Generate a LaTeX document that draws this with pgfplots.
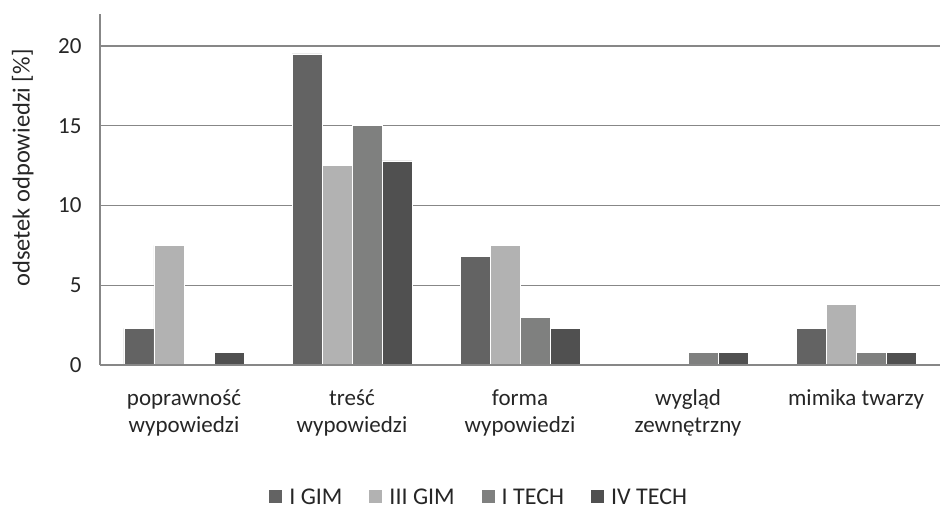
\documentclass[border=0pt]{standalone}
\usepackage{pgfplots}
\pgfplotsset{compat=1.18}
\usepackage{fontspec}
\setmainfont{Carlito}

\definecolor{cIGIM}{HTML}{636363}
\definecolor{cIIIGIM}{HTML}{B2B2B2}
\definecolor{cITECH}{HTML}{7F807F}
\definecolor{cIVTECH}{HTML}{505050}
\definecolor{gridc}{HTML}{878787}
\definecolor{txt}{HTML}{262626}

\begin{document}
\begin{tikzpicture}[font=\fontsize{23bp}{27bp}\selectfont]
\begin{axis}[
    scale only axis,
    width=840bp, height=351bp,
    ybar=0pt, bar width=30bp,
    xmin=-0.5, xmax=4.5,
    ymin=0, ymax=22,
    axis x line=bottom, axis y line=left,
    axis line style={gridc, line width=1.2bp, -},
    xtick={0,1,2,3,4},
    xticklabels={{poprawność\\wypowiedzi},{treść\\wypowiedzi},{forma\\wypowiedzi},{wygląd\\zewnętrzny},{mimika twarzy}},
    xticklabel style={align=center, text=txt, yshift=-21bp},
    ytick={0,5,10,15,20},
    yticklabel style={text=txt, xshift=-15bp},
    major tick length=0pt,
    ymajorgrids=true,
    grid style={gridc, line width=1.2bp},
    /pgf/number format/assume math mode=true,
    ylabel={odsetek odpowiedzi [\%]},
    ylabel style={at={(axis description cs:-0.092,0.561)}, anchor=center, text=txt,
        font=\fontsize{24.5bp}{28bp}\selectfont},
    legend style={at={(axis description cs:0.452,-0.376)}, anchor=center, draw=none,
        legend columns=-1, text=txt, font=\fontsize{24bp}{28bp}\selectfont,
        nodes={inner sep=3bp},
        /tikz/every odd column/.append style={column sep=4bp},
        /tikz/every even column/.append style={column sep=24bp}},
    legend image code/.code={\path[#1,draw=none] (0bp,-6.5bp) rectangle (13bp,6.5bp);},
]
\addplot[fill=cIGIM, draw=white, line width=0.4bp] coordinates {(0,2.3) (1,19.5) (2,6.8) (4,2.3)};
\addlegendentry{I GIM}
\addplot[fill=cIIIGIM, draw=white, line width=0.4bp] coordinates {(0,7.5) (1,12.5) (2,7.5) (4,3.8)};
\addlegendentry{III GIM}
\addplot[fill=cITECH, draw=white, line width=0.4bp] coordinates {(1,15) (2,3.0) (3,0.8) (4,0.8)};
\addlegendentry{I TECH}
\addplot[fill=cIVTECH, draw=white, line width=0.4bp] coordinates {(0,0.8) (1,12.8) (2,2.3) (3,0.8) (4,0.8)};
\addlegendentry{IV TECH}
\draw[gridc, line width=1.2bp] (axis cs:-0.5,0) -- (axis cs:4.5,0);
\end{axis}
\path (-100bp,-143bp) rectangle (844bp,365bp);
\end{tikzpicture}
\end{document}
